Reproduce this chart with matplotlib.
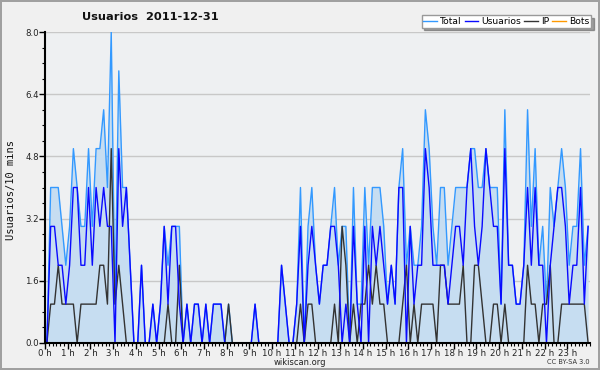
import matplotlib
matplotlib.use("Agg")
import matplotlib.pyplot as plt
import numpy as np
from matplotlib.ticker import MultipleLocator, FixedLocator, FuncFormatter

# 10-minute bins over 2011-12-31, one row per hour
usuarios = [
    0, 3, 3, 2, 2, 1,  2, 4, 4, 2, 2, 4,  2, 4, 3, 4, 3, 3,  0, 5, 3, 4, 2, 0,
    0, 2, 0, 0, 1, 0,  1, 3, 1, 3, 3, 1,  0, 1, 0, 1, 1, 0,  1, 0, 1, 1, 1, 0,
    0, 0, 0, 0, 0, 0,  0, 1, 0, 0, 0, 0,  0, 0, 2, 1, 0, 0,  1, 3, 0, 2, 3, 2,
    1, 2, 2, 3, 3, 2,  0, 1, 0, 3, 1, 0,  3, 0, 3, 2, 3, 2,  1, 2, 1, 4, 4, 0,
    3, 1, 2, 2, 5, 4,  2, 2, 2, 2, 1, 2,  3, 3, 2, 4, 5, 3,  2, 3, 5, 4, 3, 3,
    1, 5, 2, 2, 1, 1,  2, 4, 2, 4, 2, 2,  0, 2, 3, 4, 4, 3,  1, 2, 2, 4, 1, 3,
]
ip = [
    0, 1, 1, 2, 1, 1,  1, 1, 0, 1, 1, 1,  1, 1, 2, 2, 1, 5,  1, 2, 1, 0, 0, 0,
    0, 0, 0, 0, 0, 0,  0, 0, 1, 0, 0, 2,  0, 0, 0, 0, 0, 0,  0, 0, 0, 0, 0, 0,
    1, 0, 0, 0, 0, 0,  0, 0, 0, 0, 0, 0,  0, 0, 0, 0, 0, 0,  0, 1, 0, 1, 1, 0,
    0, 0, 0, 0, 1, 0,  3, 2, 0, 1, 0, 1,  1, 2, 1, 2, 1, 1,  0, 0, 0, 0, 1, 2,
    0, 1, 0, 1, 1, 1,  1, 0, 2, 2, 1, 1,  1, 1, 2, 0, 0, 2,  2, 1, 0, 0, 1, 1,
    0, 1, 0, 0, 0, 0,  0, 2, 1, 1, 0, 1,  1, 2, 0, 0, 1, 1,  1, 1, 1, 1, 1, 0,
]
total = [
    0, 4, 4, 4, 3, 2,  3, 5, 4, 3, 3, 5,  3, 5, 5, 6, 4, 8,  1, 7, 4, 4, 2, 0,
    0, 2, 0, 0, 1, 0,  1, 3, 2, 3, 3, 3,  0, 1, 0, 1, 1, 0,  1, 0, 1, 1, 1, 0,
    1, 0, 0, 0, 0, 0,  0, 1, 0, 0, 0, 0,  0, 0, 2, 1, 0, 0,  1, 4, 0, 3, 4, 2,
    1, 2, 2, 3, 4, 2,  3, 3, 0, 4, 1, 1,  4, 2, 4, 4, 4, 3,  1, 2, 1, 4, 5, 2,
    3, 2, 2, 3, 6, 5,  3, 2, 4, 4, 2, 3,  4, 4, 4, 4, 5, 5,  4, 4, 5, 4, 4, 4,
    1, 6, 2, 2, 1, 1,  2, 6, 3, 5, 2, 3,  1, 4, 3, 4, 5, 4,  2, 3, 3, 5, 2, 3,
]
bots = [0] * 144

hour_labels = [f"{h} h" for h in range(24)]
y_ticks = [0.0, 1.6, 3.2, 4.8, 6.4, 8.0]

c_total = "#3399ff"
c_users = "#0a0aff"
c_ip = "#333333"
c_bots = "#ff9900"
c_fill = "#c6ddf1"

fig = plt.figure(figsize=(6, 3.7), dpi=100, facecolor="#f0f0f0",
                 edgecolor="#a0a0a0", linewidth=1.5)
ax = fig.add_axes([45 / 600, 27 / 370, 545 / 600, 311 / 370])
ax.set_facecolor("#eef0f2")

x = (np.arange(len(total)) + 0.5) / 6.0

l_bots, = ax.plot(x, bots, color=c_bots, lw=1, zorder=1, label="Bots")
ax.fill_between(x, 0, total, color=c_fill, zorder=2, lw=0)
l_total, = ax.plot(x, total, color=c_total, lw=1, zorder=3, label="Total")
l_users, = ax.plot(x, usuarios, color=c_users, lw=1, zorder=5, label="Usuarios")
l_ip, = ax.plot(x, ip, color=c_ip, lw=1, zorder=4, label="IP")

ax.set_xlim(0, 24)
ax.set_ylim(0, 8)

ax.xaxis.set_major_locator(FixedLocator(range(24)))
ax.set_xticklabels(hour_labels)
ax.xaxis.set_minor_locator(MultipleLocator(1 / 6))
ax.yaxis.set_major_locator(FixedLocator(y_ticks))
ax.yaxis.set_major_formatter(FuncFormatter(lambda v, p: f"{v:.1f}"))
ax.yaxis.set_minor_locator(MultipleLocator(0.4))

ax.tick_params(axis="both", which="major", direction="out", length=4,
               width=1, labelsize=6.2, pad=0.5, color="black", labelcolor="#222222")
ax.tick_params(axis="both", which="minor", direction="out", length=2.5, width=0.8)

ax.grid(True, axis="y", which="major", color="#c8c8c8", lw=1, zorder=0)
ax.set_axisbelow(True)
for s in ["top", "right"]:
    ax.spines[s].set_visible(False)
for s in ["left", "bottom"]:
    ax.spines[s].set_linewidth(1.5)
    ax.spines[s].set_zorder(10)

fig.text(0.25, 1 - 17 / 370, "Usuarios  2011-12-31", ha="center", va="center",
         fontsize=8.2, fontweight="bold", color="#111111")
fig.text(0.018, 1 - 190 / 370, "Usuarios/10 mins", rotation=90, ha="center",
         va="center", fontsize=7.5, family="DejaVu Sans Mono", color="#111111")
fig.text(0.5, 1 - 362.5 / 370, "wikiscan.org", ha="center", va="center",
         fontsize=6, color="#222222")
fig.text(590 / 600, 1 - 362 / 370, "CC BY-SA 3.0", ha="right", va="center",
         fontsize=4.8, color="#333333")

leg = fig.legend(handles=[l_total, l_users, l_ip, l_bots],
                 labels=["Total", "Usuarios", "IP", "Bots"],
                 loc="upper right", bbox_to_anchor=(591 / 600, 1 - 15 / 370),
                 ncol=4, fontsize=6.6, frameon=True, fancybox=False, shadow=True,
                 handlelength=1.5, handletextpad=0.35, columnspacing=0.3,
                 borderpad=0.2, borderaxespad=0)
leg.get_frame().set_edgecolor("#999999")
leg.get_frame().set_facecolor("white")
leg.get_frame().set_alpha(1)

fig.savefig("out.png", dpi=100, facecolor=fig.get_facecolor(),
            edgecolor=fig.get_edgecolor())
